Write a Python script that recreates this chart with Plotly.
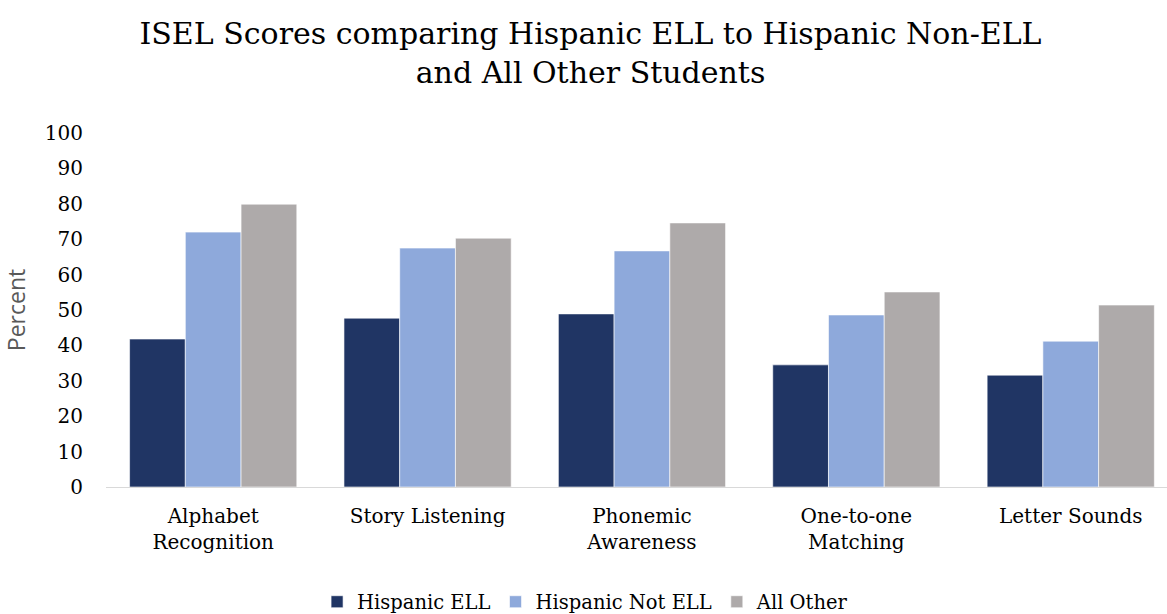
import plotly.graph_objects as go

categories = ["Alphabet<br>Recognition", "Story Listening", "Phonemic<br>Awareness", "One-to-one<br>Matching", "Letter Sounds"]
hispanic_ell = [41.8, 47.7, 48.9, 34.5, 31.6]
hispanic_not_ell = [72.0, 67.5, 66.7, 48.6, 41.2]
all_other = [79.9, 70.3, 74.6, 55.1, 51.4]
y_ticks = [0, 10, 20, 30, 40, 50, 60, 70, 80, 90, 100]

SERIF = "DejaVu Serif"
colors = ["#203564", "#8EA9DB", "#AEAAAA"]
names = ["Hispanic ELL", "Hispanic Not ELL", "All Other"]
series = [hispanic_ell, hispanic_not_ell, all_other]

fig = go.Figure()
for name, vals, col in zip(names, series, colors):
    fig.add_trace(go.Bar(
        x=categories, y=vals, name=name,
        marker=dict(color=col, line=dict(color="rgba(255,255,255,0.6)", width=1)),
    ))

fig.update_layout(
    width=1167, height=614,
    paper_bgcolor="white", plot_bgcolor="white",
    barmode="group", bargap=0.22, bargroupgap=0,
    margin=dict(l=106, r=0, t=133, b=127, autoexpand=False),
    title=dict(
        text="ISEL Scores comparing Hispanic ELL to Hispanic Non-ELL<br>and All Other Students",
        x=0.506, xanchor="center", y=0.929, yanchor="top",
        font=dict(family=SERIF, size=30, color="#000000"),
    ),
    xaxis=dict(
        range=[-0.5, 4.449], showline=True, linecolor="#D9D9D9", linewidth=1,
        ticks="", tickfont=dict(family=SERIF, size=20, color="#000000"),
        ticklabelstandoff=11, showgrid=False,
    ),
    yaxis=dict(
        range=[0, 100], tickvals=y_ticks, showgrid=False, zeroline=False,
        showline=False, ticks="", ticklabelstandoff=22,
        tickfont=dict(family=SERIF, size=20, color="#000000"),
        title=dict(text="Percent", font=dict(family="Open Sans", size=23, color="#595959"), standoff=12),
    ),
    legend=dict(
        orientation="h", x=0.452, xanchor="center", y=-0.325, yanchor="middle",
        font=dict(family=SERIF, size=19.5, color="#000000"),
        itemwidth=30, traceorder="normal",
    ),
)

fig.write_html("out.html")
